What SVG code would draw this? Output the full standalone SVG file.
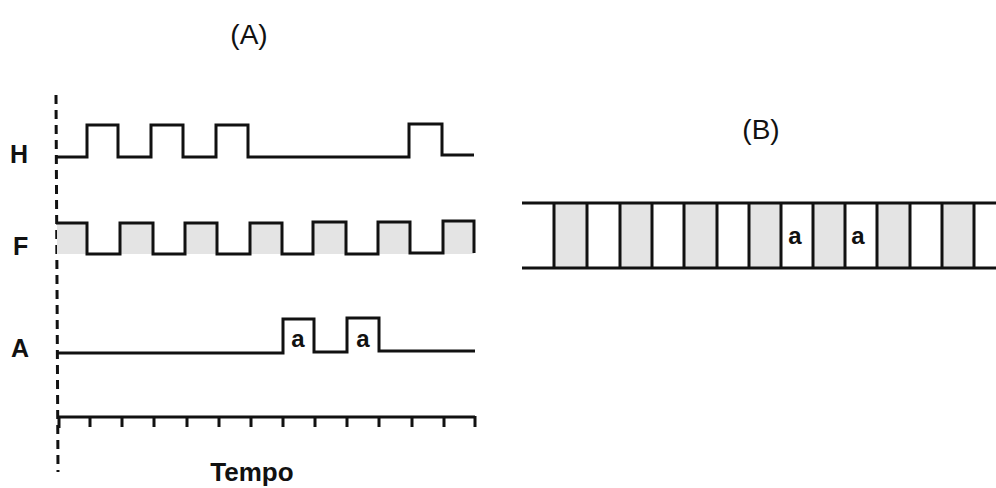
<svg xmlns="http://www.w3.org/2000/svg" width="996" height="488" viewBox="0 0 996 488">
<style>
.sig{fill:none;stroke:#111;stroke-width:3;stroke-linejoin:miter}
.shade{fill:#e4e4e4;stroke:none}
.lbl{font-family:"Liberation Sans",Arial,sans-serif;font-weight:bold;fill:#111}
.ttl{font-family:"Liberation Sans",Arial,sans-serif;fill:#111;font-size:28px}
</style>
<rect width="996" height="488" fill="#fff"/>
<text class="ttl" x="249" y="44" text-anchor="middle">(A)</text>
<text class="ttl" x="761" y="139" text-anchor="middle">(B)</text>
<g id="axis-dashed"><line x1="56" y1="95" x2="58" y2="472" stroke="#111" stroke-width="3" stroke-dasharray="9,6"/></g>
<g id="H">
<text class="lbl" x="10" y="163" font-size="25">H</text>
<path class="sig" d="M56,157 H87 V125 H118 V157 H151 V125 H183 V157 H216 V125 H248 V157 H409 V124 H442 V155 H474"/>
</g>
<g id="F">
<text class="lbl" x="13" y="255" font-size="25">F</text>
<g class="shade">
<rect x="57" y="223" width="30" height="31"/>
<rect x="120" y="223" width="33" height="31"/>
<rect x="185" y="223" width="32" height="31"/>
<rect x="250" y="223" width="32" height="31"/>
<rect x="313" y="222" width="33" height="32"/>
<rect x="378" y="222" width="32" height="32"/>
<rect x="443" y="221" width="31" height="33"/>
</g>
<path class="sig" d="M56,223 H87 V254 H120 V223 H153 V254 H185 V223 H217 V254 H250 V223 H282 V254 H313 V222 H346 V254 H378 V222 H410 V253 H443 V221 H474 V253"/>
</g>
<g id="A">
<text class="lbl" x="11" y="357" font-size="25">A</text>
<path class="sig" d="M56,353 H283 V319 H314 V352 H347 V318 H379 V351 H475"/>
<text class="lbl" x="298" y="347" font-size="24" text-anchor="middle">a</text>
<text class="lbl" x="363" y="347" font-size="24" text-anchor="middle">a</text>
</g>
<g id="time-axis">
<path class="sig" d="M59,417 H475"/>
<path class="sig" d="M59,417 V428 M90,417 V427 M122,417 V427 M154,417 V427 M187,417 V427 M219,417 V427 M251,417 V427 M283,417 V427 M315,417 V427 M347,417 V427 M379,417 V427 M412,417 V427 M444,417 V427 M475,416 V427"/>
<text class="lbl" x="252" y="481" font-size="26" text-anchor="middle">Tempo</text>
</g>
<g id="tape">
<g class="shade">
<rect x="554" y="202" width="33" height="66"/>
<rect x="620" y="202" width="32" height="66"/>
<rect x="684" y="202" width="33" height="66"/>
<rect x="749" y="202" width="32" height="66"/>
<rect x="813" y="202" width="32" height="66"/>
<rect x="877" y="202" width="33" height="66"/>
<rect x="942" y="202" width="32" height="66"/>
</g>
<path class="sig" d="M522,203 H996 M522,268 H996"/>
<path class="sig" d="M554,203 V268 M587,203 V268 M620,203 V268 M652,203 V268 M684,203 V268 M717,203 V268 M749,203 V268 M781,203 V268 M813,203 V268 M845,203 V268 M877,203 V268 M910,203 V268 M942,203 V268 M974,203 V268"/>
<text class="lbl" x="795" y="244" font-size="24" text-anchor="middle">a</text>
<text class="lbl" x="858" y="244" font-size="24" text-anchor="middle">a</text>
</g>
</svg>
